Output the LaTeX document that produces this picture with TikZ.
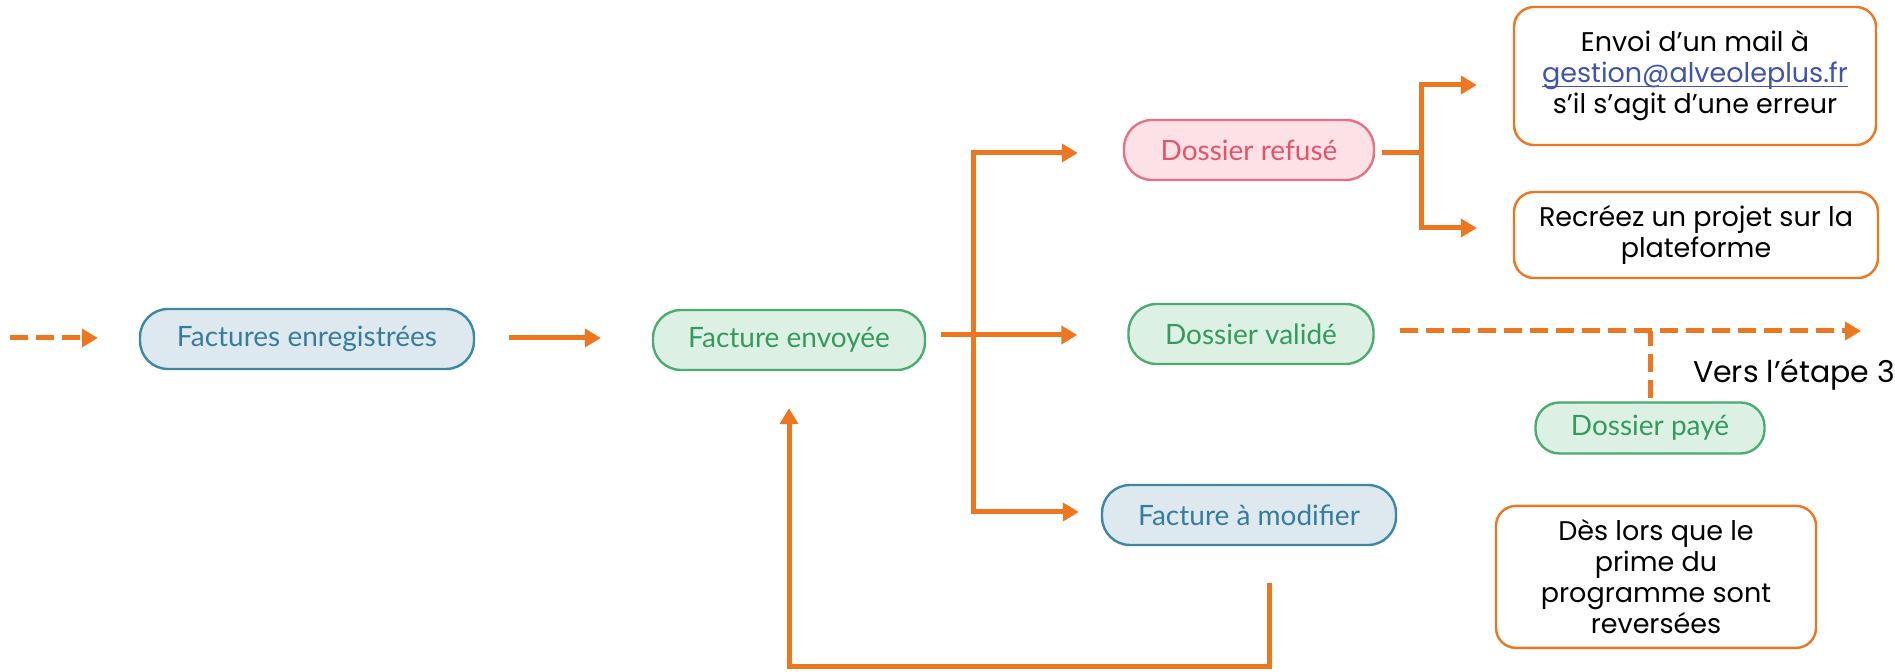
\documentclass[tikz,border=0pt]{standalone}
\usepackage{fontspec}
\setmainfont{Poppins}
\newfontfamily\pillfont{Lato}
\usepackage{tikz}
\usetikzlibrary{arrows.meta, positioning, calc}
\definecolor{flow}{RGB}{237, 118, 33}
\definecolor{bluefill}{RGB}{221, 233, 239}
\definecolor{blueline}{RGB}{62, 134, 165}
\definecolor{bluetext}{RGB}{55, 125, 155}
\definecolor{greenfill}{RGB}{221, 240, 228}
\definecolor{greenline}{RGB}{76, 172, 112}
\definecolor{greentext}{RGB}{52, 155, 92}
\definecolor{redfill}{RGB}{252, 226, 230}
\definecolor{redline}{RGB}{232, 112, 132}
\definecolor{redtext}{RGB}{226, 84, 106}
\definecolor{linktext}{RGB}{64, 84, 170}
\newcommand\maillink[1]{\setbox0\hbox{#1}\rlap{\rule[-2.2pt]{\wd0}{0.7pt}}\box0}
\tikzset{
  pill/.style={
    rectangle, rounded corners=14pt, line width=1.2pt,
    minimum height=30pt, align=center,
    font=\pillfont\fontsize{14}{16}\selectfont
  },
  bluepill/.style={pill, draw=blueline, fill=bluefill, text=bluetext},
  greenpill/.style={pill, draw=greenline, fill=greenfill, text=greentext},
  redpill/.style={pill, draw=redline, fill=redfill, text=redtext},
  notebox/.style={
    rectangle, rounded corners=10pt, draw=flow, line width=1.2pt,
    fill=white, align=center, font=\fontsize{13.5}{15.5}\selectfont
  },
  flowplain/.style={draw=flow, line width=2.5pt},
  flowline/.style={flowplain, -{Triangle[length=8pt, width=9pt]}},
  dashflow/.style={flowline, dash pattern=on 9pt off 4pt},
  dashplain/.style={flowplain, dash pattern=on 9pt off 4pt}
}
\begin{document}
\begin{tikzpicture}[x=0.5pt, y=-0.5pt]
  \useasboundingbox (0,0) rectangle (1895,672);

  % Main line
  \node[bluepill, minimum width=167pt] (fr) at (307,339) {Factures enregistrées};
  \node[greenpill, minimum width=136pt] (fe) at (789,340) {Facture envoyée};

  % Outcomes
  \node[redpill, minimum width=125pt] (dr) at (1249,150) {Dossier refusé};
  \node[greenpill, minimum width=122.5pt] (dv) at (1251,334) {Dossier validé};
  \node[bluepill, minimum width=147pt] (fm) at (1249,515) {Facture à modifier};

  % Refused: what to do
  \node[notebox, minimum width=181pt, minimum height=69pt] (mail) at (1695,76) {
    Envoi d’un mail à\\
    {\color{linktext}\maillink{gestion@alveoleplus.fr}}\\
    s’il s’agit d’une erreur
  };
  \node[notebox, minimum width=182pt, minimum height=43pt] (recree) at (1696,235) {
    Recréez un projet sur la\\
    plateforme
  };

  % Paid
  \node[greenpill, minimum width=114.5pt, minimum height=25.5pt, rounded corners=12pt] (dp) at (1650,428) {Dossier payé};
  \node[notebox, below=25pt of dp, xshift=3pt, minimum width=160pt, minimum height=71pt] (dl) {
    Dès lors que le\\
    prime du\\
    programme sont\\
    reversées
  };
  \node[anchor=west, font=\fontsize{15}{17}\selectfont] (vers) at (1686,375) {Vers l’étape 3};

  \coordinate (in) at (10,338);
  \coordinate (out) at (1861,331);
  \coordinate (br) at (973,335);

  \draw[dashflow] (in) -- ([xshift=-20.5pt]fr.west |- in);
  \draw[flowline] ([xshift=17pt]fr.east |- in) -- ([xshift=-25.5pt]fe.west |- in);
  \draw[flowplain] ([xshift=7.5pt]fe.east |- br) -- (br);
  \draw[flowline] (br) |- ([xshift=-22.5pt,yshift=-1.5pt]dr.west);
  \draw[flowline] (br) -- ([xshift=-25pt]dv.west |- br);
  \draw[flowline] (br) |- ([xshift=-11pt,yshift=1.5pt]fm.west);
  \draw[flowline] ([xshift=10pt,yshift=-18.5pt]fm.south) -- ++(0,-41.5pt) -| ([yshift=-18.5pt]fe.south);

  \draw[flowplain] ([xshift=3.5pt,yshift=-1.5pt]dr.east) -- ++(19.5pt,0) coordinate (rb);
  \draw[flowline] ([yshift=0.75pt]rb) |- ([xshift=-18pt,yshift=-4.5pt]mail.west);
  \draw[flowline] ([yshift=0.75pt]rb) |- ([xshift=-18pt,yshift=3.5pt]recree.west);

  \draw[dashflow] ([xshift=12.5pt]dv.east |- out) -- (out);
  \draw[dashplain] ([yshift=1.5pt]dp.north) -- (dp.north |- out);
\end{tikzpicture}
\end{document}
